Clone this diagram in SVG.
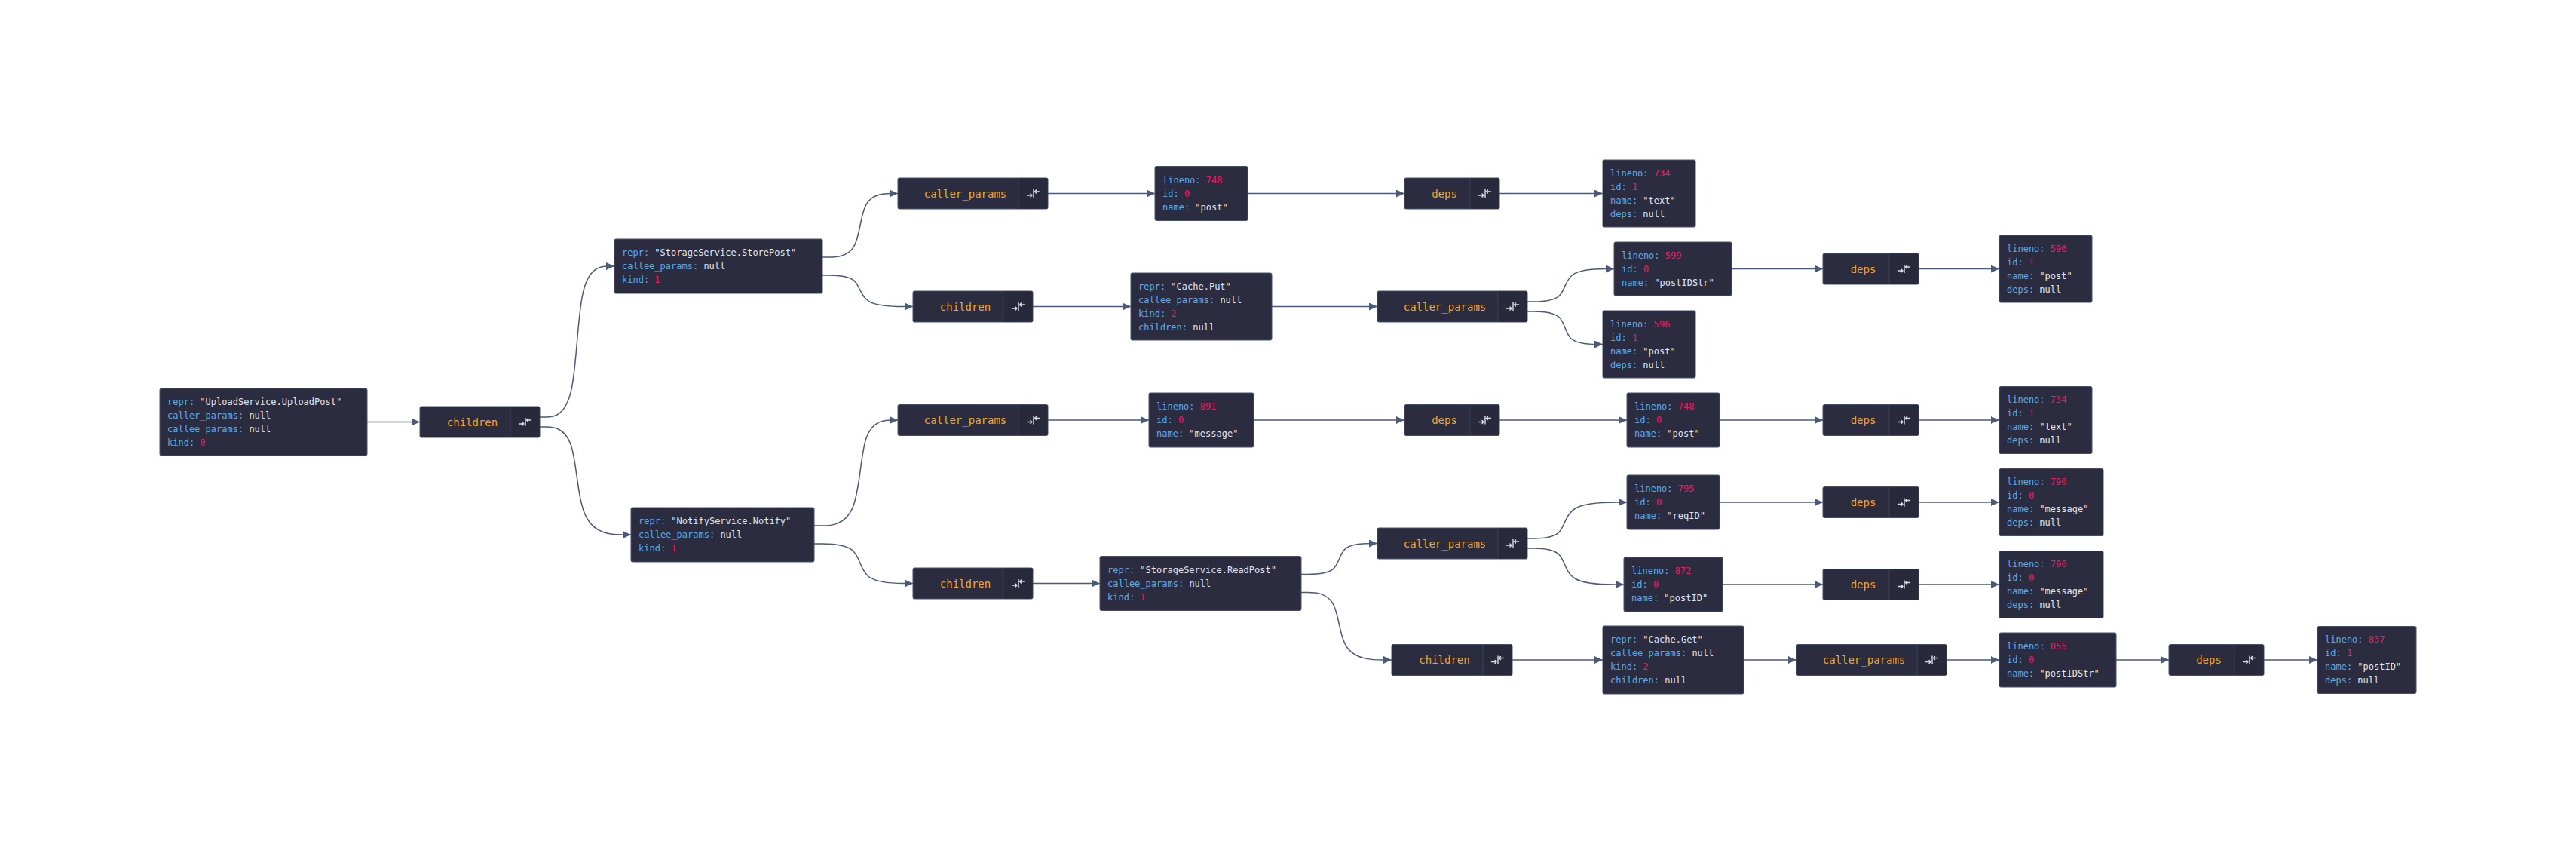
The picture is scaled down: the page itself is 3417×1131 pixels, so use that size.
<svg xmlns="http://www.w3.org/2000/svg" xmlns:xlink="http://www.w3.org/1999/xlink" width="3417" height="1131" viewBox="0 0 3417 1131">
<style>
.nb{fill:#2b2c3f;stroke:#475069;stroke-width:1}
.ib{fill:#28293b}
.dv{stroke:#3d4157;stroke-width:1}
.t{font-family:"DejaVu Sans Mono","Liberation Mono",monospace;font-size:12px}
.k{fill:#58acee}
.v{fill:#e3e6ec}
.n{fill:#ec1c64}
.l{font-family:"DejaVu Sans Mono","Liberation Mono",monospace;font-size:14px;fill:#f5a623;text-anchor:middle}
.e{fill:none;stroke:#4b5a79;stroke-width:1.5;marker-end:url(#ah)}
.ic{stroke:#dde1ea;stroke-width:1.4;fill:none;stroke-linecap:round;stroke-linejoin:round}
</style>
<defs>
<marker id="ah" viewBox="0 0 11 10" refX="11" refY="5" markerWidth="11" markerHeight="10" markerUnits="userSpaceOnUse" orient="auto"><path d="M0,0 L11,5 L0,10 z" fill="#4b5a79"/></marker>
<g id="ico" class="ic"><path d="M0.5,-5 V5 M8,-2.5 H2 M4,-4.5 L2,-2.5 L4,-0.5 M-8,2.5 H-1.5 M-3.5,0.5 L-1.5,2.5 L-3.5,4.5"/></g>
</defs>
<rect width="3417" height="1131" fill="#ffffff"/>
<g id="edges">
<path class="e" d="M487,559.5 H557"/>
<path class="e" d="M716,553 L724.25,553 C732.5,553 749,553 757.25,519.67 C765.5,486.33 765.5,419.67 773.75,386.33 C782,353 798.5,353 806.75,353 L815,353"/>
<path class="e" d="M716,566 L724.25,566 C732.5,566 749,566 757.25,589.83 C765.5,613.67 765.5,661.33 777.42,685.17 C789.33,709 813.17,709 825.08,709 L837,709"/>
<path class="e" d="M1091,341 L1099.33,341 C1107.67,341 1124.33,341 1132.67,326.92 C1141,312.83 1141,284.67 1149.33,270.58 C1157.67,256.5 1174.33,256.5 1182.67,256.5 L1191,256.5"/>
<path class="e" d="M1091,365 L1099.33,365 C1107.67,365 1124.33,365 1132.67,371.92 C1141,378.83 1141,392.67 1152.67,399.58 C1164.33,406.5 1187.67,406.5 1199.33,406.5 L1211,406.5"/>
<path class="e" d="M1080,697 L1090.17,697 C1100.33,697 1120.67,697 1130.83,673.67 C1141,650.33 1141,603.67 1149.33,580.33 C1157.67,557 1174.33,557 1182.67,557 L1191,557"/>
<path class="e" d="M1080,721 L1090.17,721 C1100.33,721 1120.67,721 1130.83,729.75 C1141,738.5 1141,756 1152.67,764.75 C1164.33,773.5 1187.67,773.5 1199.33,773.5 L1211,773.5"/>
<path class="e" d="M1390,256.5 H1532"/>
<path class="e" d="M1655,256.5 H1863"/>
<path class="e" d="M1989,256.5 H2126"/>
<path class="e" d="M1370,406.5 H1500"/>
<path class="e" d="M1687,406.5 H1827"/>
<path class="e" d="M2026,400 L2034.33,400 C2042.67,400 2059.33,400 2067.67,392.75 C2076,385.5 2076,371 2086.83,363.75 C2097.67,356.5 2119.33,356.5 2130.17,356.5 L2141,356.5"/>
<path class="e" d="M2026,413 L2034.33,413 C2042.67,413 2059.33,413 2067.67,420.25 C2076,427.5 2076,442 2084.33,449.25 C2092.67,456.5 2109.33,456.5 2117.67,456.5 L2126,456.5"/>
<path class="e" d="M2297,356.5 H2418"/>
<path class="e" d="M2545,356.5 H2652"/>
<path class="e" d="M1390,557 H1524"/>
<path class="e" d="M1663,557 H1863"/>
<path class="e" d="M1989,557 H2158"/>
<path class="e" d="M2281,557 H2418"/>
<path class="e" d="M2545,557 H2652"/>
<path class="e" d="M1370,773.5 H1459"/>
<path class="e" d="M1726,761.5 L1734.42,761.5 C1742.83,761.5 1759.67,761.5 1768.08,754.67 C1776.5,747.83 1776.5,734.17 1784.92,727.33 C1793.33,720.5 1810.17,720.5 1818.58,720.5 L1827,720.5"/>
<path class="e" d="M1726,785.5 L1734.42,785.5 C1742.83,785.5 1759.67,785.5 1768.08,800.42 C1776.5,815.33 1776.5,845.17 1788.08,860.08 C1799.67,875 1822.83,875 1834.42,875 L1846,875"/>
<path class="e" d="M2026,714 L2034.33,714 C2042.67,714 2059.33,714 2067.67,706 C2076,698 2076,682 2089.67,674 C2103.33,666 2130.67,666 2144.33,666 L2158,666"/>
<path class="e" d="M2026,727 L2034.33,727 C2042.67,727 2059.33,727 2067.67,735 C2076,743 2076,759 2089,767 C2102,775 2128,775 2141,775 L2154,775"/>
<path class="e" d="M2281,666 H2418"/>
<path class="e" d="M2545,666 H2652"/>
<path class="e" d="M2285,775 H2418"/>
<path class="e" d="M2545,775 H2652"/>
<path class="e" d="M2006,875 H2126"/>
<path class="e" d="M2313,875 H2383"/>
<path class="e" d="M2582,875 H2652"/>
<path class="e" d="M2807,875 H2877"/>
<path class="e" d="M3003,875 H3074"/>
</g>

<g id="n-root"><rect class="nb" x="212" y="515" width="275" height="89" rx="2"/>
<text class="t" x="222" y="536.8"><tspan class="k">repr:</tspan><tspan class="v"> "UploadService.UploadPost"</tspan></text>
<text class="t" x="222" y="554.8"><tspan class="k">caller_params:</tspan><tspan class="v"> null</tspan></text>
<text class="t" x="222" y="572.8"><tspan class="k">callee_params:</tspan><tspan class="v"> null</tspan></text>
<text class="t" x="222" y="590.8"><tspan class="k">kind:</tspan><tspan class="n"> 0</tspan></text></g>

<g id="n-children-1"><rect class="nb" x="557" y="539" width="159" height="41" rx="2"/><rect class="ib" x="677" y="539.5" width="38.5" height="40"/><line class="dv" x1="677" y1="539.5" x2="677" y2="579.5"/>
<text class="l" x="626.5" y="564.5">children</text><use href="#ico" x="696.5" y="559.5"/></g>

<g id="n-storepost"><rect class="nb" x="815" y="317" width="276" height="72" rx="2"/>
<text class="t" x="825" y="339.3"><tspan class="k">repr:</tspan><tspan class="v"> "StorageService.StorePost"</tspan></text>
<text class="t" x="825" y="357.3"><tspan class="k">callee_params:</tspan><tspan class="v"> null</tspan></text>
<text class="t" x="825" y="375.3"><tspan class="k">kind:</tspan><tspan class="n"> 1</tspan></text></g>

<g id="n-notify"><rect class="nb" x="837" y="673" width="243" height="72" rx="2"/>
<text class="t" x="847" y="695.3"><tspan class="k">repr:</tspan><tspan class="v"> "NotifyService.Notify"</tspan></text>
<text class="t" x="847" y="713.3"><tspan class="k">callee_params:</tspan><tspan class="v"> null</tspan></text>
<text class="t" x="847" y="731.3"><tspan class="k">kind:</tspan><tspan class="n"> 1</tspan></text></g>

<g id="n-caller-a"><rect class="nb" x="1191" y="236" width="199" height="41" rx="2"/><rect class="ib" x="1351" y="236.5" width="38.5" height="40"/><line class="dv" x1="1351" y1="236.5" x2="1351" y2="276.5"/>
<text class="l" x="1280.5" y="261.5">caller_params</text><use href="#ico" x="1370.5" y="256.5"/></g>

<g id="n-children-b"><rect class="nb" x="1211" y="386" width="159" height="41" rx="2"/><rect class="ib" x="1331" y="386.5" width="38.5" height="40"/><line class="dv" x1="1331" y1="386.5" x2="1331" y2="426.5"/>
<text class="l" x="1280.5" y="411.5">children</text><use href="#ico" x="1350.5" y="406.5"/></g>

<g id="n-748a"><rect class="nb" x="1532" y="220.5" width="123" height="72" rx="2"/>
<text class="t" x="1542" y="242.8"><tspan class="k">lineno:</tspan><tspan class="n"> 748</tspan></text>
<text class="t" x="1542" y="260.8"><tspan class="k">id:</tspan><tspan class="n"> 0</tspan></text>
<text class="t" x="1542" y="278.8"><tspan class="k">name:</tspan><tspan class="v"> "post"</tspan></text></g>

<g id="n-deps-a"><rect class="nb" x="1863" y="236" width="126" height="41" rx="2"/><rect class="ib" x="1950" y="236.5" width="38.5" height="40"/><line class="dv" x1="1950" y1="236.5" x2="1950" y2="276.5"/>
<text class="l" x="1916" y="261.5">deps</text><use href="#ico" x="1969.5" y="256.5"/></g>

<g id="n-734a"><rect class="nb" x="2126" y="212" width="123" height="89" rx="2"/>
<text class="t" x="2136" y="233.8"><tspan class="k">lineno:</tspan><tspan class="n"> 734</tspan></text>
<text class="t" x="2136" y="251.8"><tspan class="k">id:</tspan><tspan class="n"> 1</tspan></text>
<text class="t" x="2136" y="269.8"><tspan class="k">name:</tspan><tspan class="v"> "text"</tspan></text>
<text class="t" x="2136" y="287.8"><tspan class="k">deps:</tspan><tspan class="v"> null</tspan></text></g>

<g id="n-cacheput"><rect class="nb" x="1500" y="362" width="187" height="89" rx="2"/>
<text class="t" x="1510" y="383.8"><tspan class="k">repr:</tspan><tspan class="v"> "Cache.Put"</tspan></text>
<text class="t" x="1510" y="401.8"><tspan class="k">callee_params:</tspan><tspan class="v"> null</tspan></text>
<text class="t" x="1510" y="419.8"><tspan class="k">kind:</tspan><tspan class="n"> 2</tspan></text>
<text class="t" x="1510" y="437.8"><tspan class="k">children:</tspan><tspan class="v"> null</tspan></text></g>

<g id="n-caller-c"><rect class="nb" x="1827" y="386" width="199" height="41" rx="2"/><rect class="ib" x="1987" y="386.5" width="38.5" height="40"/><line class="dv" x1="1987" y1="386.5" x2="1987" y2="426.5"/>
<text class="l" x="1916.5" y="411.5">caller_params</text><use href="#ico" x="2006.5" y="406.5"/></g>

<g id="n-599"><rect class="nb" x="2141" y="321" width="156" height="71" rx="2"/>
<text class="t" x="2151" y="342.8"><tspan class="k">lineno:</tspan><tspan class="n"> 599</tspan></text>
<text class="t" x="2151" y="360.8"><tspan class="k">id:</tspan><tspan class="n"> 0</tspan></text>
<text class="t" x="2151" y="378.8"><tspan class="k">name:</tspan><tspan class="v"> "postIDStr"</tspan></text></g>

<g id="n-deps-d"><rect class="nb" x="2418" y="336" width="127" height="41" rx="2"/><rect class="ib" x="2506" y="336.5" width="38.5" height="40"/><line class="dv" x1="2506" y1="336.5" x2="2506" y2="376.5"/>
<text class="l" x="2471.5" y="361.5">deps</text><use href="#ico" x="2525.5" y="356.5"/></g>

<g id="n-596a"><rect class="nb" x="2652" y="312" width="123" height="89" rx="2"/>
<text class="t" x="2662" y="333.8"><tspan class="k">lineno:</tspan><tspan class="n"> 596</tspan></text>
<text class="t" x="2662" y="351.8"><tspan class="k">id:</tspan><tspan class="n"> 1</tspan></text>
<text class="t" x="2662" y="369.8"><tspan class="k">name:</tspan><tspan class="v"> "post"</tspan></text>
<text class="t" x="2662" y="387.8"><tspan class="k">deps:</tspan><tspan class="v"> null</tspan></text></g>

<g id="n-596b"><rect class="nb" x="2126" y="412" width="123" height="89" rx="2"/>
<text class="t" x="2136" y="433.8"><tspan class="k">lineno:</tspan><tspan class="n"> 596</tspan></text>
<text class="t" x="2136" y="451.8"><tspan class="k">id:</tspan><tspan class="n"> 1</tspan></text>
<text class="t" x="2136" y="469.8"><tspan class="k">name:</tspan><tspan class="v"> "post"</tspan></text>
<text class="t" x="2136" y="487.8"><tspan class="k">deps:</tspan><tspan class="v"> null</tspan></text></g>

<g id="n-caller-e"><rect class="nb" x="1191" y="536.5" width="199" height="41" rx="2"/><rect class="ib" x="1351" y="537" width="38.5" height="40"/><line class="dv" x1="1351" y1="537" x2="1351" y2="577"/>
<text class="l" x="1280.5" y="562">caller_params</text><use href="#ico" x="1370.5" y="557"/></g>

<g id="n-891"><rect class="nb" x="1524" y="521" width="139" height="72" rx="2"/>
<text class="t" x="1534" y="543.3"><tspan class="k">lineno:</tspan><tspan class="n"> 891</tspan></text>
<text class="t" x="1534" y="561.3"><tspan class="k">id:</tspan><tspan class="n"> 0</tspan></text>
<text class="t" x="1534" y="579.3"><tspan class="k">name:</tspan><tspan class="v"> "message"</tspan></text></g>

<g id="n-deps-f"><rect class="nb" x="1863" y="536.5" width="126" height="41" rx="2"/><rect class="ib" x="1950" y="537" width="38.5" height="40"/><line class="dv" x1="1950" y1="537" x2="1950" y2="577"/>
<text class="l" x="1916" y="562">deps</text><use href="#ico" x="1969.5" y="557"/></g>

<g id="n-748b"><rect class="nb" x="2158" y="521" width="123" height="72" rx="2"/>
<text class="t" x="2168" y="543.3"><tspan class="k">lineno:</tspan><tspan class="n"> 748</tspan></text>
<text class="t" x="2168" y="561.3"><tspan class="k">id:</tspan><tspan class="n"> 0</tspan></text>
<text class="t" x="2168" y="579.3"><tspan class="k">name:</tspan><tspan class="v"> "post"</tspan></text></g>

<g id="n-deps-i"><rect class="nb" x="2418" y="536.5" width="127" height="41" rx="2"/><rect class="ib" x="2506" y="537" width="38.5" height="40"/><line class="dv" x1="2506" y1="537" x2="2506" y2="577"/>
<text class="l" x="2471.5" y="562">deps</text><use href="#ico" x="2525.5" y="557"/></g>

<g id="n-734b"><rect class="nb" x="2652" y="512.5" width="123" height="89" rx="2"/>
<text class="t" x="2662" y="534.3"><tspan class="k">lineno:</tspan><tspan class="n"> 734</tspan></text>
<text class="t" x="2662" y="552.3"><tspan class="k">id:</tspan><tspan class="n"> 1</tspan></text>
<text class="t" x="2662" y="570.3"><tspan class="k">name:</tspan><tspan class="v"> "text"</tspan></text>
<text class="t" x="2662" y="588.3"><tspan class="k">deps:</tspan><tspan class="v"> null</tspan></text></g>

<g id="n-children-g"><rect class="nb" x="1211" y="753" width="159" height="41" rx="2"/><rect class="ib" x="1331" y="753.5" width="38.5" height="40"/><line class="dv" x1="1331" y1="753.5" x2="1331" y2="793.5"/>
<text class="l" x="1280.5" y="778.5">children</text><use href="#ico" x="1350.5" y="773.5"/></g>

<g id="n-readpost"><rect class="nb" x="1459" y="737.5" width="267" height="72" rx="2"/>
<text class="t" x="1469" y="759.8"><tspan class="k">repr:</tspan><tspan class="v"> "StorageService.ReadPost"</tspan></text>
<text class="t" x="1469" y="777.8"><tspan class="k">callee_params:</tspan><tspan class="v"> null</tspan></text>
<text class="t" x="1469" y="795.8"><tspan class="k">kind:</tspan><tspan class="n"> 1</tspan></text></g>

<g id="n-caller-h"><rect class="nb" x="1827" y="700" width="199" height="41" rx="2"/><rect class="ib" x="1987" y="700.5" width="38.5" height="40"/><line class="dv" x1="1987" y1="700.5" x2="1987" y2="740.5"/>
<text class="l" x="1916.5" y="725.5">caller_params</text><use href="#ico" x="2006.5" y="720.5"/></g>

<g id="n-795"><rect class="nb" x="2158" y="630" width="123" height="72" rx="2"/>
<text class="t" x="2168" y="652.3"><tspan class="k">lineno:</tspan><tspan class="n"> 795</tspan></text>
<text class="t" x="2168" y="670.3"><tspan class="k">id:</tspan><tspan class="n"> 0</tspan></text>
<text class="t" x="2168" y="688.3"><tspan class="k">name:</tspan><tspan class="v"> "reqID"</tspan></text></g>

<g id="n-deps-j"><rect class="nb" x="2418" y="645.5" width="127" height="41" rx="2"/><rect class="ib" x="2506" y="646" width="38.5" height="40"/><line class="dv" x1="2506" y1="646" x2="2506" y2="686"/>
<text class="l" x="2471.5" y="671">deps</text><use href="#ico" x="2525.5" y="666"/></g>

<g id="n-790a"><rect class="nb" x="2652" y="621.5" width="138" height="89" rx="2"/>
<text class="t" x="2662" y="643.3"><tspan class="k">lineno:</tspan><tspan class="n"> 790</tspan></text>
<text class="t" x="2662" y="661.3"><tspan class="k">id:</tspan><tspan class="n"> 0</tspan></text>
<text class="t" x="2662" y="679.3"><tspan class="k">name:</tspan><tspan class="v"> "message"</tspan></text>
<text class="t" x="2662" y="697.3"><tspan class="k">deps:</tspan><tspan class="v"> null</tspan></text></g>

<g id="n-872"><rect class="nb" x="2154" y="739" width="131" height="72" rx="2"/>
<text class="t" x="2164" y="761.3"><tspan class="k">lineno:</tspan><tspan class="n"> 872</tspan></text>
<text class="t" x="2164" y="779.3"><tspan class="k">id:</tspan><tspan class="n"> 0</tspan></text>
<text class="t" x="2164" y="797.3"><tspan class="k">name:</tspan><tspan class="v"> "postID"</tspan></text></g>

<g id="n-deps-k"><rect class="nb" x="2418" y="754.5" width="127" height="41" rx="2"/><rect class="ib" x="2506" y="755" width="38.5" height="40"/><line class="dv" x1="2506" y1="755" x2="2506" y2="795"/>
<text class="l" x="2471.5" y="780">deps</text><use href="#ico" x="2525.5" y="775"/></g>

<g id="n-790b"><rect class="nb" x="2652" y="730.5" width="138" height="89" rx="2"/>
<text class="t" x="2662" y="752.3"><tspan class="k">lineno:</tspan><tspan class="n"> 790</tspan></text>
<text class="t" x="2662" y="770.3"><tspan class="k">id:</tspan><tspan class="n"> 0</tspan></text>
<text class="t" x="2662" y="788.3"><tspan class="k">name:</tspan><tspan class="v"> "message"</tspan></text>
<text class="t" x="2662" y="806.3"><tspan class="k">deps:</tspan><tspan class="v"> null</tspan></text></g>

<g id="n-children-l"><rect class="nb" x="1846" y="854.5" width="160" height="41" rx="2"/><rect class="ib" x="1967" y="855" width="38.5" height="40"/><line class="dv" x1="1967" y1="855" x2="1967" y2="895"/>
<text class="l" x="1916" y="880">children</text><use href="#ico" x="1986.5" y="875"/></g>

<g id="n-cacheget"><rect class="nb" x="2126" y="830" width="187" height="90" rx="2"/>
<text class="t" x="2136" y="852.3"><tspan class="k">repr:</tspan><tspan class="v"> "Cache.Get"</tspan></text>
<text class="t" x="2136" y="870.3"><tspan class="k">callee_params:</tspan><tspan class="v"> null</tspan></text>
<text class="t" x="2136" y="888.3"><tspan class="k">kind:</tspan><tspan class="n"> 2</tspan></text>
<text class="t" x="2136" y="906.3"><tspan class="k">children:</tspan><tspan class="v"> null</tspan></text></g>

<g id="n-caller-m"><rect class="nb" x="2383" y="854.5" width="199" height="41" rx="2"/><rect class="ib" x="2543" y="855" width="38.5" height="40"/><line class="dv" x1="2543" y1="855" x2="2543" y2="895"/>
<text class="l" x="2472.5" y="880">caller_params</text><use href="#ico" x="2562.5" y="875"/></g>

<g id="n-855"><rect class="nb" x="2652" y="839" width="155" height="72" rx="2"/>
<text class="t" x="2662" y="861.3"><tspan class="k">lineno:</tspan><tspan class="n"> 855</tspan></text>
<text class="t" x="2662" y="879.3"><tspan class="k">id:</tspan><tspan class="n"> 0</tspan></text>
<text class="t" x="2662" y="897.3"><tspan class="k">name:</tspan><tspan class="v"> "postIDStr"</tspan></text></g>

<g id="n-deps-n"><rect class="nb" x="2877" y="854.5" width="126" height="41" rx="2"/><rect class="ib" x="2964" y="855" width="38.5" height="40"/><line class="dv" x1="2964" y1="855" x2="2964" y2="895"/>
<text class="l" x="2930" y="880">deps</text><use href="#ico" x="2983.5" y="875"/></g>

<g id="n-837"><rect class="nb" x="3074" y="830.5" width="131" height="89" rx="2"/>
<text class="t" x="3084" y="852.3"><tspan class="k">lineno:</tspan><tspan class="n"> 837</tspan></text>
<text class="t" x="3084" y="870.3"><tspan class="k">id:</tspan><tspan class="n"> 1</tspan></text>
<text class="t" x="3084" y="888.3"><tspan class="k">name:</tspan><tspan class="v"> "postID"</tspan></text>
<text class="t" x="3084" y="906.3"><tspan class="k">deps:</tspan><tspan class="v"> null</tspan></text></g>
</svg>
